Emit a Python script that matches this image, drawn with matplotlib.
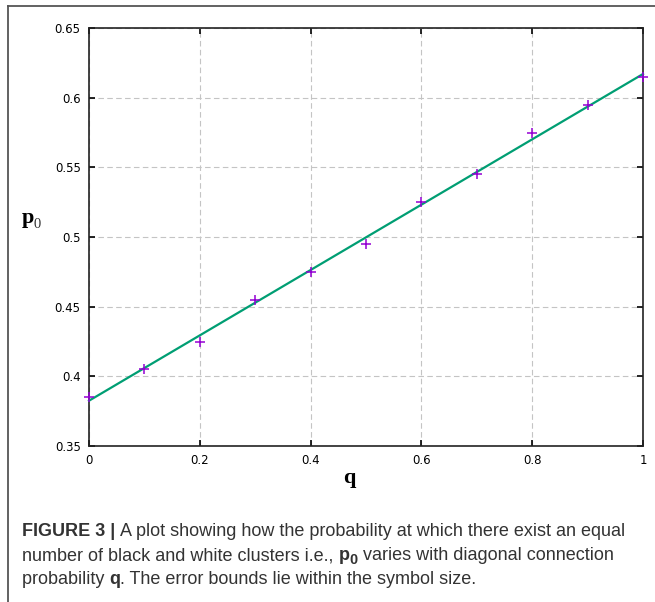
"""p0 versus diagonal connection probability q, gnuplot-like styling with caption."""

import matplotlib

matplotlib.use("Agg")
import matplotlib.pyplot as plt  # noqa: E402
from matplotlib.lines import Line2D  # noqa: E402

# data
q_vals = [0.0, 0.1, 0.2, 0.3, 0.4, 0.5, 0.6, 0.7, 0.8, 0.9, 1.0]
p0_vals = [0.385, 0.405, 0.425, 0.455, 0.475, 0.495, 0.525, 0.545, 0.575, 0.595, 0.615]
fit_q = [0.0, 1.0]
fit_p0 = [0.3825, 0.617]
x_ticks = [0, 0.2, 0.4, 0.6, 0.8, 1]
x_tick_labels = ["0", "0.2", "0.4", "0.6", "0.8", "1"]
y_ticks = [0.35, 0.4, 0.45, 0.5, 0.55, 0.6, 0.65]
y_tick_labels = ["0.35", "0.4", "0.45", "0.5", "0.55", "0.6", "0.65"]

caption_lines = [
    [("FIGURE 3 | ", "bold", 1.0, 0), ("A plot showing how the probability at which there exist an equal", "normal", 1.0, 0)],
    [("number of black and white clusters i.e., ", "normal", 1.0, 0), ("p", "bold", 1.0, 0),
     ("0", "bold", 0.8, -3), (" varies with diagonal connection", "normal", 1.0, 0)],
    [("probability ", "normal", 1.0, 0), ("q", "bold", 1.0, 0),
     (". The error bounds lie within the symbol size.", "normal", 1.0, 0)],
]

W, H = 655, 602
fig = plt.figure(figsize=(W / 100, H / 100), dpi=100)
ax = fig.add_axes([89 / W, 1 - 446 / H, (643 - 89) / W, (446 - 28) / H])

ax.plot(fit_q, fit_p0, color="#009e73", linewidth=1.6, zorder=3, clip_on=False)
ax.plot(q_vals, p0_vals, linestyle="none", marker="+", markersize=7,
        markeredgewidth=1.1, color="#9400d3", zorder=4, clip_on=False)

ax.set_xlim(0, 1)
ax.set_ylim(0.35, 0.65)
ax.set_xticks(x_ticks, x_tick_labels)
ax.set_yticks(y_ticks, y_tick_labels)
ax.tick_params(direction="in", length=4, width=1.2, top=True, right=True,
               labelsize=8.5, pad=6, colors="black")
for lbl in ax.get_xticklabels() + ax.get_yticklabels():
    lbl.set_fontweight("medium")
for sp in ax.spines.values():
    sp.set_linewidth(1.2)
    sp.set_color("#222222")
ax.grid(True, color="#c4c4c4", linestyle=(0, (5, 3)), linewidth=0.8)
ax.set_axisbelow(True)

fig.text(22 / W, 1 - 223 / H, "p", fontsize=16, fontweight="bold",
         family="Liberation Serif", ha="left", va="baseline")
fig.text(34 / W, 1 - 228 / H, "0", fontsize=10.5,
         family="Liberation Serif", ha="left", va="baseline", color="#333333")
fig.text(349 / W, 1 - 478 / H, "q", fontsize=16, fontweight="bold",
         family="Liberation Serif", ha="center", va="center")

# frame around the figure panel
fig.add_artist(Line2D([8 / W, 8 / W], [0, 1 - 6 / H], color="#555555", linewidth=1.3))
fig.add_artist(Line2D([8 / W, 1], [1 - 6 / H, 1 - 6 / H], color="#555555", linewidth=1.3))

# caption with mixed weights, drawn run by run
fig.canvas.draw()
renderer = fig.canvas.get_renderer()
base_size = 13
for i, runs in enumerate(caption_lines):
    x = 22
    y = 536.5 + i * 24
    for text, weight, scale, dy in runs:
        t = fig.text(x / W, 1 - (y - dy) / H, text, fontsize=base_size * scale,
                     fontweight=weight, family="Liberation Sans", color="#333333",
                     ha="left", va="baseline")
        x += t.get_window_extent(renderer).width

fig.savefig("out.png", dpi=100)
plt.close(fig)
